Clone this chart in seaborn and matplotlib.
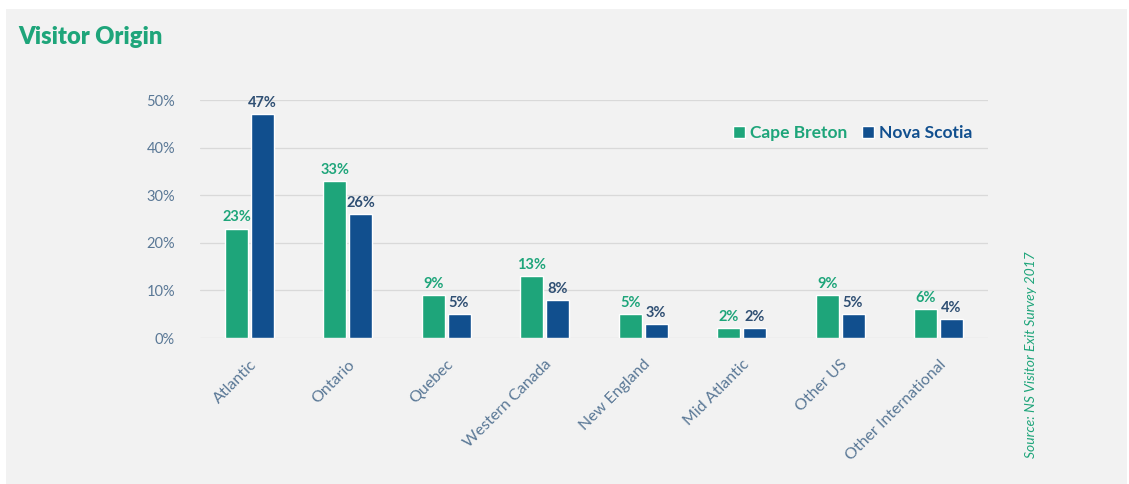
import matplotlib
matplotlib.use("Agg")
import matplotlib.pyplot as plt
from matplotlib.patches import Rectangle
from matplotlib.ticker import FuncFormatter, MultipleLocator
import seaborn as sns
import pandas as pd

# Share of visitors by origin (%)
regions = ["Atlantic", "Ontario", "Quebec", "Western Canada", "New England",
           "Mid Atlantic", "Other US", "Other International"]
cape_breton = [23, 33, 9, 13, 5, 2, 9, 6]
nova_scotia = [47, 26, 5, 8, 3, 2, 5, 4]
series_names = ["Cape Breton", "Nova Scotia"]

GREEN = "#1ea57a"
BLUE = "#114f8e"
TICK = "#5a7896"
LABEL_BLUE = "#2f4f73"

df = pd.DataFrame({
    "Region": regions * 2,
    "Series": [series_names[0]] * len(regions) + [series_names[1]] * len(regions),
    "Share": cape_breton + nova_scotia,
})

sns.set_theme(style="white")
plt.rcParams["font.family"] = ["Lato", "DejaVu Sans"]

fig = plt.figure(figsize=(11.29, 4.84), dpi=100)
fig.patch.set_facecolor("white")
fig.patches.append(Rectangle((6 / 1129, 0), 1121 / 1129, 475 / 484,
                             transform=fig.transFigure, facecolor="#f2f2f2",
                             edgecolor="none", zorder=-10))

ax = fig.add_axes([200 / 1129, 1 - 338 / 484, 788 / 1129, 238 / 484])
ax.set_facecolor("none")

sns.barplot(data=df, x="Region", y="Share", hue="Series", order=regions,
            hue_order=series_names, palette=[GREEN, BLUE], saturation=1,
            width=0.52, gap=0.1, ax=ax, legend=True, zorder=3)

ax.set_ylim(0, 50)
ax.set_xlim(-0.5, len(regions) - 0.5)
ax.yaxis.set_major_locator(MultipleLocator(10))
ax.yaxis.set_major_formatter(FuncFormatter(lambda v, _: f"{v:.0f}%"))
ax.grid(axis="y", color="#d9d9d9", linewidth=0.9, zorder=0)
ax.set_axisbelow(True)
for s in ax.spines.values():
    s.set_visible(False)
ax.set_xlabel("")
ax.set_ylabel("")
ax.tick_params(axis="y", length=0, pad=18, labelsize=10.5, labelcolor=TICK)
ax.tick_params(axis="x", length=0, pad=14, labelsize=11.5, labelcolor=TICK)
plt.setp(ax.get_xticklabels(), rotation=45, ha="right", rotation_mode="anchor")

for cont, col in zip(ax.containers, [GREEN, LABEL_BLUE]):
    ax.bar_label(cont, labels=[f"{v:.0f}%" for v in cont.datavalues],
                 padding=3, color=col, fontsize=10.5, fontweight="bold")

leg = ax.legend(loc="upper right", bbox_to_anchor=(1.0, 0.96), ncol=2,
                frameon=False, handlelength=0.7, handleheight=0.7,
                handletextpad=0.3, columnspacing=0.8,
                prop={"weight": "bold", "size": 12.5},
                labelcolor=[GREEN, BLUE])

fig.text(18 / 1129, 1 - 37 / 484, "Visitor Origin", color=GREEN,
         fontsize=17, fontweight="heavy", va="center", ha="left")
fig.text(1031 / 1129, 1 - 355 / 484, "Source: NS Visitor Exit Survey 2017",
         color=GREEN, fontsize=10, style="italic", rotation=90,
         va="center", ha="center")

fig.savefig("out.png", dpi=100, facecolor=fig.get_facecolor())
